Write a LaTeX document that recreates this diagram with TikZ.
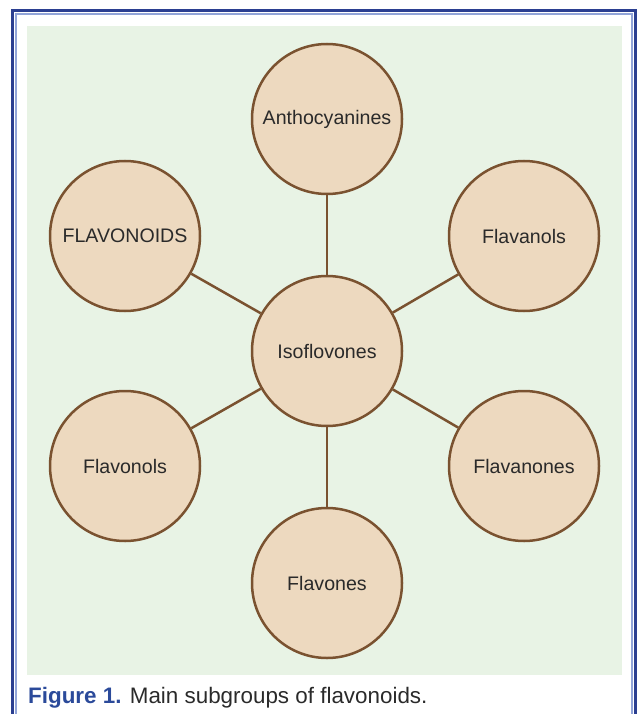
\documentclass[tikz,border=0pt]{standalone}
\usepackage{fontspec}
\setmainfont{Liberation Sans}
\usepackage{xcolor}
\usepackage{tikz}
\usetikzlibrary{calc}
\definecolor{panel}{HTML}{E8F3E5}
\definecolor{disc}{HTML}{EDD9BF}
\definecolor{rim}{HTML}{7A5230}
\definecolor{ink}{HTML}{2A2A2A}
\definecolor{frame}{HTML}{2B3F91}
\definecolor{framelt}{HTML}{91A4D8}
\definecolor{capblue}{HTML}{2B4A9A}
\tikzset{
  grp/.style={circle, draw=rim, fill=disc, line width=2.5pt, minimum size=150pt, inner sep=0pt, text=ink, font=\fontsize{19.6}{22}\selectfont},
  spoke/.style={draw=rim, line width=2.5pt},
}

\begin{document}
\begin{tikzpicture}[x=1pt,y=-1pt]
  \useasboundingbox (0,0) rectangle (641,714);
  \begin{scope}
    \clip (0,0) rectangle (641,714);
    \draw[frame, line width=3pt] (12.5,10.5) rectangle (635,740);
    \draw[framelt, line width=1.5pt] (15.8,14) rectangle (632,740);
  \end{scope}
  \fill[panel] (27,26) rectangle (622,675);
  % subgroups
  \node[grp] (iso) at (327,351) {Isoflovones};
  \node[grp] (antho) at (327,119) {Anthocyanines};
  \node[grp] (flavo) at (125,236) {FLAVONOIDS};
  \node[grp] (flavanol) at (524,236) {Flavanols};
  \node[grp] (flavonol) at (125,466) {Flavonols};
  \node[grp] (flavanone) at (524,466) {Flavanones};
  \node[grp] (flavone) at (327,583) {Flavones};
  \foreach \g in {antho,flavo,flavanol,flavonol,flavanone,flavone}{
    \draw[spoke] (iso) -- (\g);
  }
  \node[anchor=base west, inner sep=0pt, font=\fontsize{22.4}{26}\selectfont, text=ink] (cap) at (28,703)
    {\textcolor{capblue}{\textbf{Figure 1.}} Main subgroups of flavonoids.};
\end{tikzpicture}
\end{document}
